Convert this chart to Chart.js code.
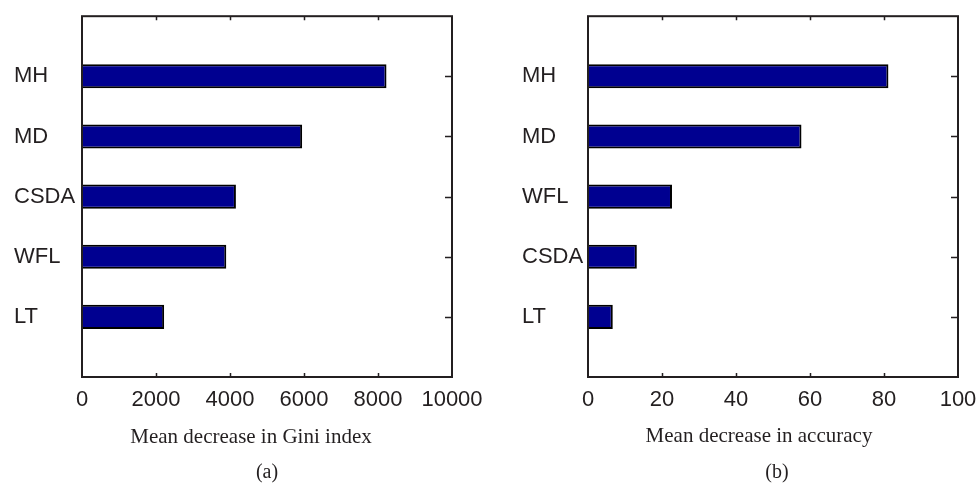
<!DOCTYPE html>
<html>
<head>
<meta charset="utf-8">
<script src="https://cdn.jsdelivr.net/npm/chart.js@4/dist/chart.umd.min.js"></script>
<style>
  html, body { margin: 0; padding: 0; background: #fff; overflow: hidden; }
  #wrap { position: relative; width: 977px; height: 483px; }
  canvas { position: absolute; top: 0; }
  .axis-title, .caption {
    position: absolute; font-family: "Liberation Serif", "Times New Roman", serif;
    color: #231f20; white-space: nowrap; transform: translate(-50%, -50%);
  }
  .axis-title { font-size: 21px; }
  .caption { font-size: 20px; }
</style>
</head>
<body>
<div id="wrap">
  <canvas id="gini" width="490" height="483" style="left:0;"></canvas>
  <canvas id="acc" width="490" height="483" style="left:487px;"></canvas>
  <div class="axis-title" style="left:251px; top:436px;">Mean decrease in Gini index</div>
  <div class="caption" style="left:267px; top:471px;">(a)</div>
  <div class="axis-title" style="left:759px; top:435px;">Mean decrease in accuracy</div>
  <div class="caption" style="left:777px; top:471px;">(b)</div>
</div>
<script>
// Variable importance, ranked top to bottom (blank slots pad the axis ends)
const giniLabels = ['', 'MH', 'MD', 'CSDA', 'WFL', 'LT', ''];
const giniValues = [null, 8230, 5950, 4160, 3900, 2220, null];
const giniTicks = [0, 2000, 4000, 6000, 8000, 10000];

const accLabels = ['', 'MH', 'MD', 'WFL', 'CSDA', 'LT', ''];
const accValues = [null, 81.2, 57.7, 22.7, 13.2, 6.7, null];
const accTicks = [0, 20, 40, 60, 80, 100];

const INK = '#231f20';
const BAR = '#000090';
const SANS = '"Liberation Sans", Arial, sans-serif';

// Box frame plus inward tick marks on all four sides
const framePlugin = {
  id: 'frame',
  afterDatasetsDraw(chart) {
    const { ctx, chartArea: a, scales } = chart;
    ctx.save();
    ctx.strokeStyle = INK;
    ctx.lineWidth = 1.5;
    ctx.beginPath();
    scales.x.ticks.forEach(t => {
      if (t.value === scales.x.min || t.value === scales.x.max) return;
      const px = Math.round(scales.x.getPixelForValue(t.value)) + 0.5;
      ctx.moveTo(px, a.bottom); ctx.lineTo(px, a.bottom - 4);
      ctx.moveTo(px, a.top); ctx.lineTo(px, a.top + 4);
    });
    chart.data.labels.forEach((lab, i) => {
      if (!lab) return;
      const py = Math.round(scales.y.getPixelForValue(i)) + 0.5;
      ctx.moveTo(a.right, py); ctx.lineTo(a.right - 7, py);
    });
    ctx.stroke();
    ctx.lineWidth = 2;
    ctx.strokeRect(a.left, a.top, a.right - a.left, a.bottom - a.top);
    ctx.restore();
  }
};

function makeChart(id, labels, values, ticks, pad, yWidth) {
  return new Chart(document.getElementById(id), {
    type: 'bar',
    data: {
      labels: labels,
      datasets: [{
        data: values,
        backgroundColor: BAR,
        borderColor: '#000',
        borderWidth: 2,
        barPercentage: 0.4,
        categoryPercentage: 1.0
      }]
    },
    options: {
      indexAxis: 'y',
      responsive: false,
      animation: false,
      layout: { padding: pad },
      plugins: { legend: { display: false }, tooltip: { enabled: false } },
      scales: {
        x: {
          type: 'linear',
          min: ticks[0],
          max: ticks[ticks.length - 1],
          afterBuildTicks(scale) { scale.ticks = ticks.map(v => ({ value: v })); },
          afterFit(scale) {
            scale.height = 40;
            scale.paddingLeft = 0;
            scale.paddingRight = 0;
          },
          grid: { drawOnChartArea: false, drawTicks: false },
          border: { display: false },
          ticks: {
            padding: 10,
            color: INK,
            callback: v => String(v),
            font: { family: SANS, size: 22 }
          }
        },
        y: {
          type: 'category',
          offset: false,
          afterFit(scale) { scale.width = yWidth; },
          grid: { drawOnChartArea: false, drawTicks: false },
          border: { display: false },
          ticks: {
            crossAlign: 'far',
            color: INK,
            autoSkip: false,
            font: { family: SANS, size: 22 }
          }
        }
      }
    },
    plugins: [framePlugin]
  });
}

makeChart('gini', giniLabels, giniValues, giniTicks,
  { left: 14, top: 14, right: 38, bottom: 66 }, 68);
makeChart('acc', accLabels, accValues, accTicks,
  { left: 35, top: 14, right: 19, bottom: 66 }, 66);
</script>
</body>
</html>
